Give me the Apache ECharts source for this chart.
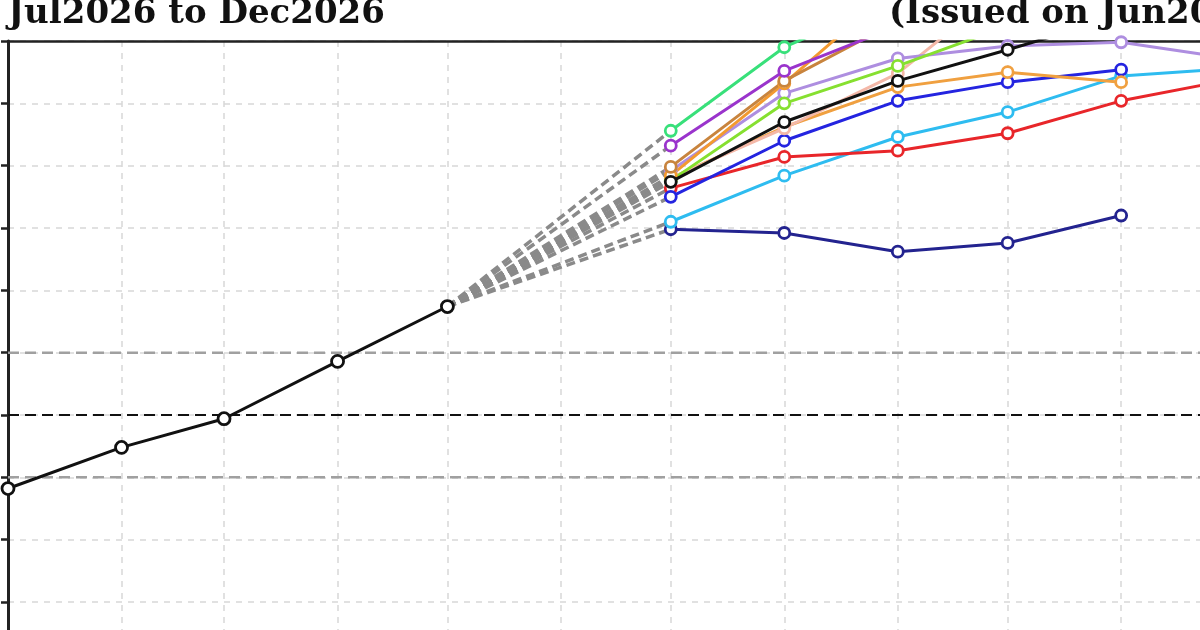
<!DOCTYPE html>
<html>
<head>
<meta charset="utf-8">
<script src="https://cdn.jsdelivr.net/npm/echarts@6/dist/echarts.min.js"></script>
<style>html,body{margin:0;padding:0;background:#fff;overflow:hidden;}#c{width:1300px;height:720px;}</style>
</head>
<body>
<div id="c"></div>
<script>
// ---- data ----
const months = ['2026-01-01','2026-02-01','2026-03-01','2026-04-01','2026-05-01','2026-06-01',
                '2026-07-01','2026-08-01','2026-09-01','2026-10-01','2026-11-01','2026-12-01'];
const obsMonths = ['2026-01-01','2026-02-01','2026-03-01','2026-04-01','2026-05-01'];
const observed = [-0.59, -0.26, -0.03, 0.43, 0.87];
const fcMonths = ['2026-07-01','2026-08-01','2026-09-01','2026-10-01','2026-11-01','2026-12-01'];
const modelNames = ['M01','M02','M03','M04','M05','M06','M07','M08','M09','M10','M11','M12'];
const m01 = [1.49, 1.46, 1.31, 1.38, 1.60, null];
const m02 = [1.55, 1.92, 2.23, 2.43, 2.72, 2.78];
const m03 = [1.82, 2.07, 2.12, 2.26, 2.52, 2.69];
const m04 = [1.75, 2.20, 2.52, 2.67, 2.77, null];
const m05 = [1.90, 2.31, 2.63, 2.75, 2.67, null];
const m06 = [1.90, 2.30, 2.74, 3.45, 3.50, 3.40];
const m07 = [1.96, 2.58, 2.86, 2.96, 2.99, 2.86];
const m08 = [1.88, 2.50, 2.80, 3.12, 3.30, 3.30];
const m09 = [1.92, 2.66, 3.45, 3.55, 3.50, 3.40];
const m10 = [1.99, 2.68, 3.16, 3.30, 3.30, 3.20];
const m11 = [2.16, 2.76, 3.12, 3.20, 3.20, 3.10];
const m12 = [2.28, 2.95, 3.35, 3.45, 3.45, 3.40];
const mMean = [1.87, 2.35, 2.68, 2.93, 3.20, 3.30];
const refLevels = [0, 0.5, -0.5];
const yTicks = [-2, -1.5, -1, -0.5, 0, 0.5, 1, 1.5, 2, 2.5, 3];
const titleLeft = 'Jul2026 to Dec2026';
const titleRight = '(Issued on Jun2026)';

// ---- styles ----
const models = [m01, m02, m03, m04, m05, m06, m07, m08, m09, m10, m11, m12];
const palette = ['#23238f','#2ebcf0','#e8262a','#2424e0','#f0a040','#f4b8a8',
                 '#ae8ee0','#86e030','#f39a30','#c8843e','#9a34cc','#38e07a'];
const refColors = ['#111', '#a0a0a0', '#a0a0a0'];

const toPts = (xs, ys) => xs.map((x, i) => [x, ys[i]]).filter(p => p[1] !== null && p[1] !== undefined);

const series = [];
// reference levels (0, +/-0.5) drawn as dashed lines across the full axis
refLevels.forEach((lv, i) => {
  series.push({
    type: 'line', silent: true, symbol: 'none', z: 2,
    data: [[months[0], lv], [months[11], lv]],
    lineStyle: { color: refColors[i], width: i === 0 ? 2 : 2.5, type: [11, 6] }
  });
});
models.concat([mMean]).forEach((m) => {
  series.push({
    type: 'line', silent: true, symbol: 'none', z: 2,
    data: [[obsMonths[4], observed[4]], [fcMonths[0], m[0]]],
    lineStyle: { color: '#8a8a8a', width: 3.5, type: [9, 5] }
  });
});
models.forEach((m, i) => {
  series.push({
    name: modelNames[i], type: 'line', z: 3,
    data: toPts(fcMonths, m),
    symbol: 'circle', symbolSize: 11,
    lineStyle: { color: palette[i], width: 3 },
    itemStyle: { color: '#fff', borderColor: palette[i], borderWidth: 2.8 }
  });
});
series.push({
  name: 'MME', type: 'line', z: 4,
  data: toPts(fcMonths, mMean),
  symbol: 'circle', symbolSize: 11,
  lineStyle: { color: '#111', width: 3 },
  itemStyle: { color: '#fff', borderColor: '#111', borderWidth: 2.8 }
});
series.push({
  name: 'Observed', type: 'line', z: 5,
  data: toPts(obsMonths, observed),
  symbol: 'circle', symbolSize: 12,
  lineStyle: { color: '#111', width: 3 },
  itemStyle: { color: '#fff', borderColor: '#111', borderWidth: 2.8 }
});

const xBase = {
  type: 'time', min: months[0], max: months[11],
  minInterval: 28 * 86400000, maxInterval: 31 * 86400000
};

const chart = echarts.init(document.getElementById('c'), null, { renderer: 'canvas' });
chart.setOption({
  animation: false,
  backgroundColor: '#fff',
  grid: { left: 8, top: 41, width: 1223, height: 623.3, show: false, containLabel: false },
  graphic: [
    { type: 'text', left: 8, top: -3, style: { text: titleLeft, font: 'bold 34px "DejaVu Serif"', fill: '#111' } },
    { type: 'text', left: 889, top: -3, style: { text: titleRight, font: 'bold 34px "DejaVu Serif"', fill: '#111' } }
  ],
  xAxis: [
    Object.assign({}, xBase, {
      position: 'bottom',
      axisLine: { show: true, onZero: false, lineStyle: { color: '#222', width: 2 } },
      axisTick: { show: true },
      axisLabel: { show: false },
      splitLine: { show: true, lineStyle: { color: '#d8d8d8', width: 1.5, type: [6, 6] } }
    }),
    Object.assign({}, xBase, {
      position: 'top',
      axisLine: { show: true, onZero: false, lineStyle: { color: '#222', width: 2.5 } },
      axisTick: { show: false },
      axisLabel: { show: false },
      splitLine: { show: false }
    })
  ],
  yAxis: {
    type: 'value', min: yTicks[0], max: yTicks[yTicks.length - 1], interval: 0.5,
    axisLine: { show: true, onZero: false, lineStyle: { color: '#222', width: 3 } },
    axisTick: { show: true, length: 7, lineStyle: { color: '#222', width: 2.5 } },
    axisLabel: { show: false },
    splitLine: { show: true, lineStyle: { color: '#d8d8d8', width: 1.5, type: [6, 6] } }
  },
  series: series
});
</script>
</body>
</html>
